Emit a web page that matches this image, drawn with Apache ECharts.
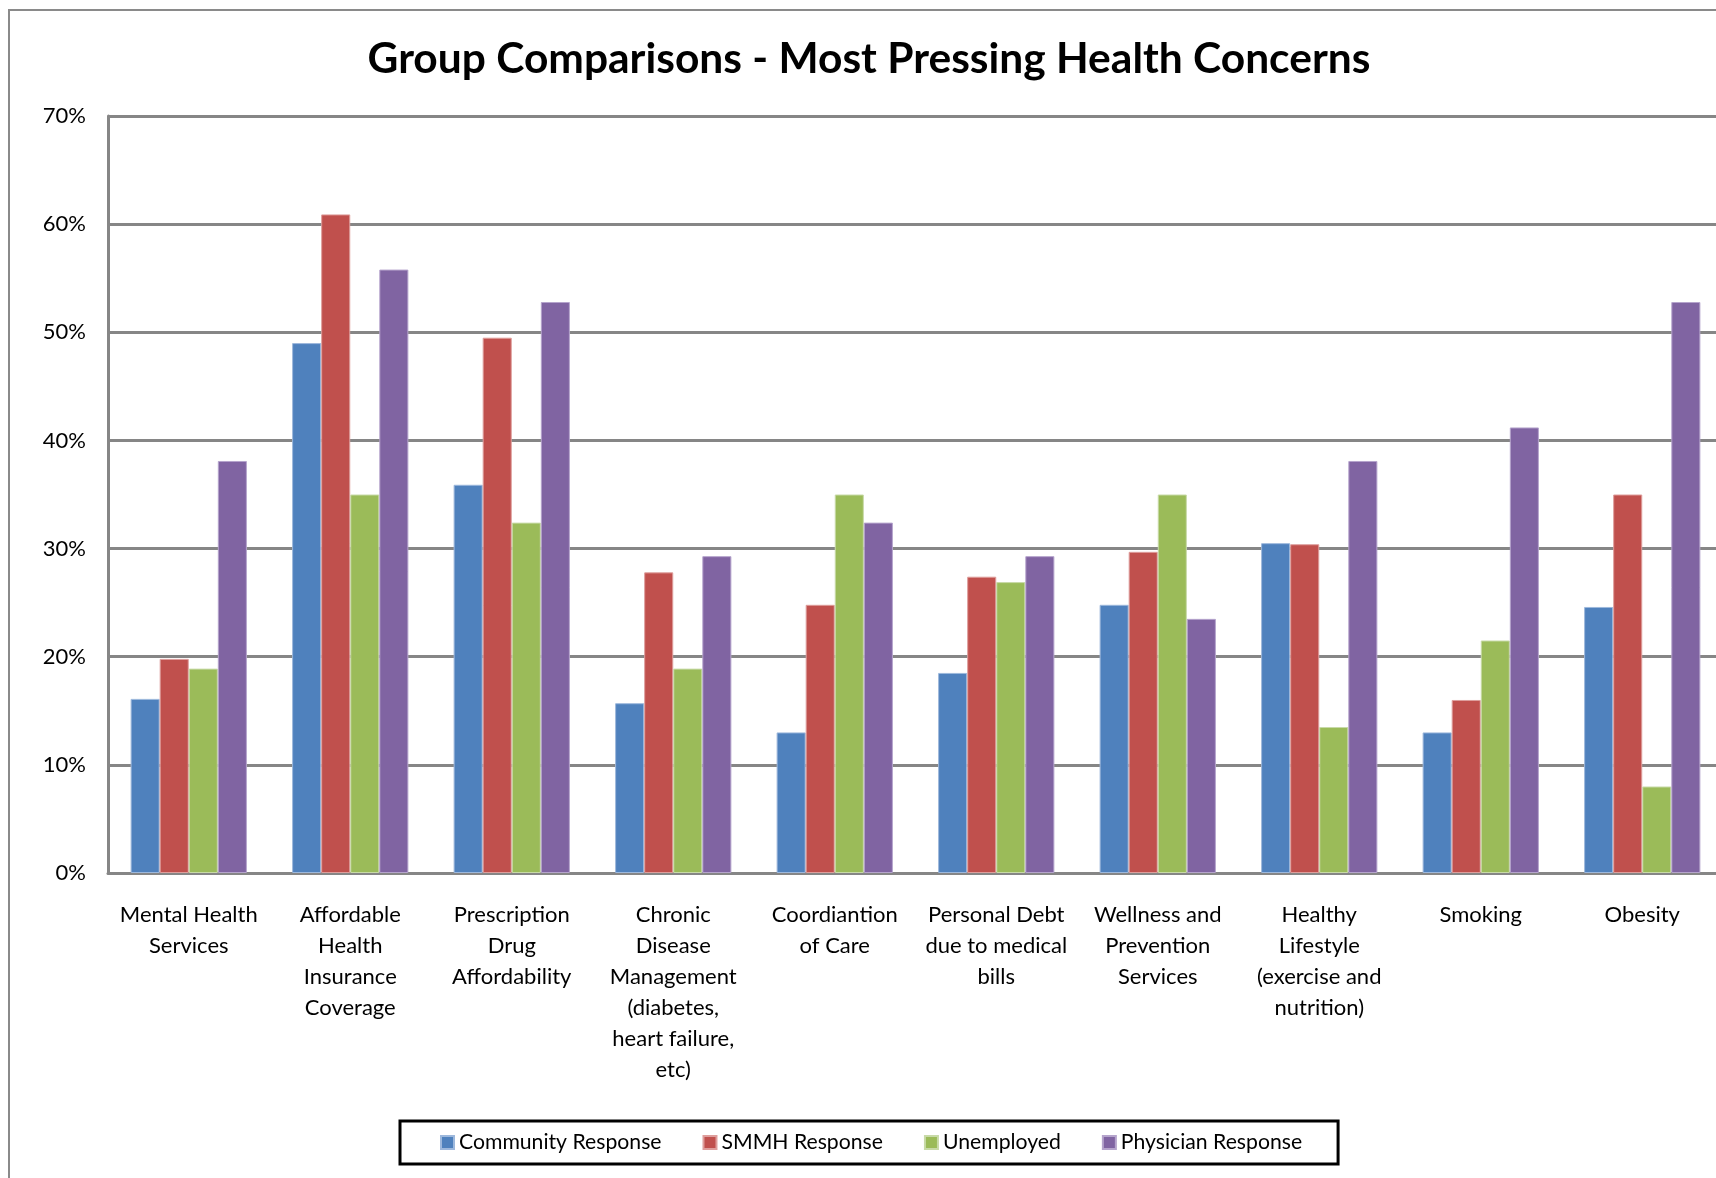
<!DOCTYPE html>
<html>
<head>
<meta charset="utf-8">
<script src="https://cdn.jsdelivr.net/npm/echarts@6/dist/echarts.min.js"></script>
<style>
  html, body { margin: 0; padding: 0; background: #fff; }
  #chart { width: 1716px; height: 1178px; }
</style>
</head>
<body>
<div id="chart"></div>
<script>
// Health concern categories (x axis)
const categories = [
  'Mental Health\nServices',
  'Affordable\nHealth\nInsurance\nCoverage',
  'Prescription\nDrug\nAffordability',
  'Chronic\nDisease\nManagement\n(diabetes,\nheart failure,\netc)',
  'Coordiantion\nof Care',
  'Personal Debt\ndue to medical\nbills',
  'Wellness and\nPrevention\nServices',
  'Healthy\nLifestyle\n(exercise and\nnutrition)',
  'Smoking',
  'Obesity'
];

// Share of respondents (%) naming each concern
const community = [16.1, 49.0, 35.9, 15.7, 13.0, 18.5, 24.8, 30.5, 13.0, 24.6];
const smmh      = [19.8, 60.9, 49.5, 27.8, 24.8, 27.4, 29.7, 30.4, 16.0, 35.0];
const unemployed= [18.9, 35.0, 32.4, 18.9, 35.0, 26.9, 35.0, 13.5, 21.5, 8.0];
const physician = [38.1, 55.8, 52.8, 29.3, 32.4, 29.3, 23.5, 38.1, 41.2, 52.8];

// Y axis ticks
const yTicks = [0, 10, 20, 30, 40, 50, 60, 70];

const seriesNames = ['Community Response', 'SMMH Response', 'Unemployed', 'Physician Response'];
const seriesColors = ['#4F81BD', '#C0504D', '#9BBB59', '#8064A2'];
const seriesBorders = ['#9DB8DC', '#DE9E9C', '#C8DAA8', '#B5A4CC'];
const seriesData = [community, smmh, unemployed, physician];

const FONT = 'Lato, "Open Sans", sans-serif';
const GRID_COLOR = '#868686';

const chart = echarts.init(document.getElementById('chart'), null, { renderer: 'canvas' });

chart.setOption({
  backgroundColor: '#fff',
  animation: false,
  title: {
    text: 'Group Comparisons - Most Pressing Health Concerns',
    left: 864,
    top: 33,
    textAlign: 'center',
    textStyle: { fontFamily: FONT, fontWeight: 'bold', fontSize: 42.5, color: '#000' }
  },
  graphic: [{
    type: 'rect',
    shape: { x: 9, y: 10, width: 1800, height: 1300 },
    style: { fill: null, stroke: '#8a8a8a', lineWidth: 2 },
    silent: true,
    z: -1
  }],
  legend: {
    left: 400,
    top: 1121,
    orient: 'horizontal',
    padding: [11, 36, 11, 40],
    borderColor: '#000',
    borderWidth: 3,
    itemWidth: 13,
    itemHeight: 13,
    itemGap: 41,
    icon: 'rect',
    textStyle: { fontFamily: FONT, fontSize: 21.2, color: '#000' },
    data: seriesNames
  },
  grid: {
    left: 108,
    top: 116,
    width: 1615,
    bottom: 305,
    containLabel: false,
    outerBoundsMode: 'none'
  },
  xAxis: {
    type: 'category',
    data: categories,
    axisLine: { show: true, lineStyle: { color: GRID_COLOR, width: 3 } },
    axisTick: { show: false },
    axisLabel: {
      interval: 0,
      margin: 26,
      fontFamily: FONT,
      fontSize: 22,
      lineHeight: 31,
      color: '#000',
      align: 'center'
    }
  },
  yAxis: {
    type: 'value',
    min: yTicks[0],
    max: yTicks[yTicks.length - 1],
    interval: 10,
    axisLine: { show: true, lineStyle: { color: GRID_COLOR, width: 3 } },
    axisTick: { show: false },
    splitLine: { show: true, lineStyle: { color: GRID_COLOR, width: 3 } },
    axisLabel: {
      margin: 22,
      fontFamily: FONT,
      fontSize: 22,
      color: '#000',
      formatter: '{value}%'
    }
  },
  series: seriesNames.map((name, i) => ({
    name,
    type: 'bar',
    data: seriesData[i],
    barGap: '0%',
    barCategoryGap: '28%',
    itemStyle: { color: seriesColors[i], borderColor: seriesBorders[i], borderWidth: 1 },
    emphasis: { disabled: true }
  }))
});
</script>
</body>
</html>
